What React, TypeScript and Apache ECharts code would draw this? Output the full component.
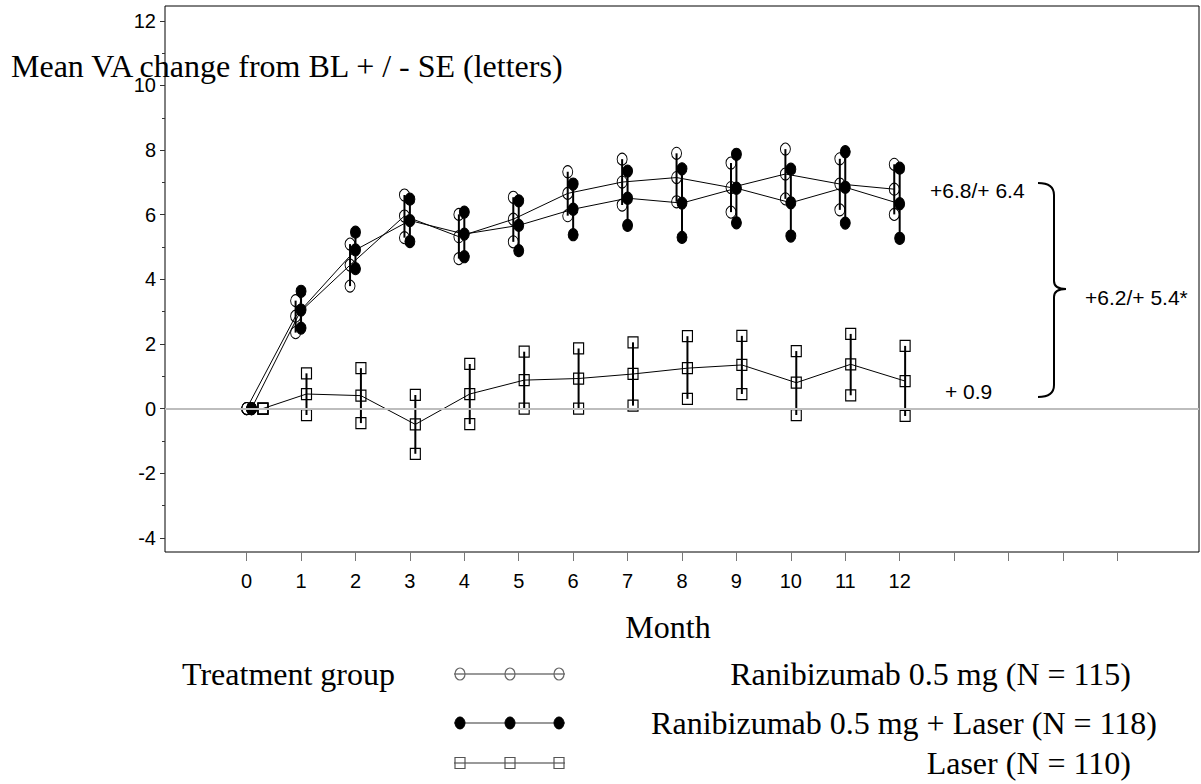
import React, { useEffect, useRef } from "react";
import * as echarts from "echarts";

// Visit months (tick labels)
const monthLabels = [0, 1, 2, 3, 4, 5, 6, 7, 8, 9, 10, 11, 12];
const monthTicks = [0, 1, 2, 3, 4, 5, 6, 7, 8, 9, 10, 11, 12, 13, 14, 15, 16];
const yMajorTicks = [-4, -2, 0, 2, 4, 6, 8, 10, 12];
const yMinorTicks = [-3, -1, 1, 3, 5, 7, 9, 11];

// Plotted x positions (slightly jittered per group as in the source)
const xRan = [0, 0.9, 1.9, 2.9, 3.9, 4.9, 5.9, 6.9, 7.9, 8.9, 9.9, 10.9, 11.9];
const xComb = [0.09, 1, 2, 3, 4, 5, 6, 7, 8, 9, 10, 11, 12];
const xLaser = [0.3, 1.1, 2.1, 3.1, 4.1, 5.1, 6.1, 7.1, 8.1, 9.1, 10.1, 11.1, 12.1];

// Ranibizumab 0.5 mg
const ranMean = [0, 2.86, 4.44, 5.96, 5.32, 5.86, 6.66, 7.01, 7.15, 6.84, 7.26, 6.95, 6.79];
const ranUpper = [0, 3.34, 5.09, 6.61, 6.01, 6.54, 7.33, 7.72, 7.9, 7.6, 8.03, 7.73, 7.56];
const ranLower = [0, 2.35, 3.79, 5.29, 4.64, 5.16, 5.97, 6.3, 6.4, 6.08, 6.49, 6.15, 6.01];

// Ranibizumab 0.5 mg + Laser
const combMean = [0, 3.05, 4.91, 5.82, 5.4, 5.67, 6.17, 6.51, 6.36, 6.82, 6.37, 6.85, 6.34];
const combUpper = [0, 3.63, 5.46, 6.48, 6.08, 6.43, 6.95, 7.35, 7.42, 7.87, 7.41, 7.95, 7.44];
const combLower = [0, 2.49, 4.33, 5.17, 4.7, 4.89, 5.38, 5.67, 5.3, 5.75, 5.34, 5.74, 5.27];

// Laser
const laserMean = [0, 0.45, 0.4, -0.49, 0.45, 0.88, 0.93, 1.07, 1.25, 1.35, 0.8, 1.37, 0.85];
const laserUpper = [0, 1.09, 1.25, 0.42, 1.38, 1.76, 1.86, 2.05, 2.24, 2.25, 1.78, 2.31, 1.94];
const laserLower = [0, -0.2, -0.45, -1.4, -0.48, 0, 0, 0.09, 0.3, 0.45, -0.2, 0.41, -0.23];

const groupNames = [
  "Ranibizumab 0.5 mg (N = 115)",
  "Ranibizumab 0.5 mg + Laser (N = 118)",
  "Laser (N = 110)",
];
const annotTop = "+6.8/+ 6.4";
const annotBottom = "+ 0.9";
const annotDiff = "+6.2/+ 5.4*";

const SANS = "'Liberation Sans', Arial, sans-serif";
const SERIF = "'Liberation Serif', 'Times New Roman', serif";

const symOpen = { symbol: "circle", symbolSize: [10, 12], itemStyle: { color: "rgba(0,0,0,0)", borderColor: "#000", borderWidth: 1, opacity: 1 } };
const symFilled = { symbol: "circle", symbolSize: [10, 12], itemStyle: { color: "#000", borderColor: "#000", borderWidth: 1, opacity: 1 } };
const symSquare = { symbol: "rect", symbolSize: [10, 11], itemStyle: { color: "rgba(0,0,0,0)", borderColor: "#000", borderWidth: 1.2, opacity: 1 } };

function errorBarSeries(xs: number[], lo: number[], hi: number[]) {
  return {
    type: "custom",
    z: 2,
    silent: true,
    data: xs.map((x, i) => [x, lo[i], hi[i]]),
    encode: { x: 0, y: [1, 2] },
    renderItem: (params: any, api: any) => {
      const p1 = api.coord([api.value(0), api.value(1)]);
      const p2 = api.coord([api.value(0), api.value(2)]);
      return {
        type: "line",
        shape: { x1: p1[0], y1: p1[1], x2: p2[0], y2: p2[1] },
        style: { stroke: "#000", lineWidth: 2 },
      };
    },
  };
}

function meanSeries(name: string, xs: number[], ys: number[], sym: any) {
  return {
    type: "line",
    name,
    z: 3,
    data: xs.map((x, i) => [x, ys[i]]),
    showAllSymbol: true,
    ...sym,
    lineStyle: { color: "#000", width: 1 },
  };
}

function limitSeries(xs: number[], lo: number[], hi: number[], sym: any) {
  const data: number[][] = [];
  xs.forEach((x, i) => {
    data.push([x, hi[i]]);
    data.push([x, lo[i]]);
  });
  return { type: "scatter", z: 3, silent: true, data, ...sym };
}

function legendRow(y: number, kind: string, label: string, labelRight: number) {
  const xs = [460, 510, 559];
  const els: any[] = [
    { type: "line", shape: { x1: 454, y1: y, x2: 565, y2: y }, style: { stroke: "#777", lineWidth: 1.5 } },
  ];
  xs.forEach((cx) => {
    if (kind === "square") {
      els.push({ type: "rect", shape: { x: cx - 5, y: y - 5.5, width: 10, height: 11 }, style: { fill: "none", stroke: "#555", lineWidth: 1.2 } });
    } else {
      els.push({
        type: "ellipse",
        shape: { cx, cy: y, rx: 5, ry: 6 },
        style: kind === "filled" ? { fill: "#000", stroke: "#000", lineWidth: 1 } : { fill: "none", stroke: "#666", lineWidth: 1.2 },
      });
    }
  });
  els.push({ type: "text", x: labelRight, y, style: { text: label, font: `32px ${SERIF}`, fill: "#000", verticalAlign: "middle", align: "right" } });
  return els;
}

export default function App() {
  const ref = useRef<HTMLDivElement>(null);
  useEffect(() => {
    if (!ref.current) return;
    const chart = echarts.init(ref.current, null, { renderer: "svg" });
    const braceStyle = { stroke: "#000", lineWidth: 2, fill: "none" };
    chart.setOption({
      animation: false,
      backgroundColor: "#fff",
      grid: { left: 165, right: 2, top: 6, bottom: 232, show: true, borderColor: "#000", borderWidth: 1, backgroundColor: "transparent" },
      xAxis: {
        type: "value",
        min: -1.5,
        max: 17.5,
        position: "bottom",
        axisLine: { show: false, onZero: false },
        splitLine: { show: false },
        axisTick: { show: true, customValues: monthTicks, length: 9, lineStyle: { color: "#777", width: 1 } },
        axisLabel: { customValues: monthLabels, fontSize: 20, fontFamily: SANS, color: "#000", margin: 19 },
      },
      yAxis: [
        {
          type: "value",
          min: -4.44,
          max: 12.46,
          position: "left",
          axisLine: { show: false, onZero: false },
          splitLine: { show: false },
          axisTick: { show: true, customValues: yMajorTicks, length: 5, lineStyle: { color: "#333", width: 1 } },
          axisLabel: { customValues: yMajorTicks, fontSize: 20, fontFamily: SANS, color: "#000", margin: 9 },
        },
        {
          type: "value",
          min: -4.44,
          max: 12.46,
          position: "left",
          offset: 0,
          axisLine: { show: false, onZero: false },
          splitLine: { show: false },
          axisTick: { show: true, customValues: yMinorTicks, length: 3, lineStyle: { color: "#333", width: 1 } },
          axisLabel: { show: false },
        },
      ],
      series: [
        {
          type: "line",
          data: [],
          silent: true,
          markLine: {
            silent: true,
            symbol: "none",
            label: { show: false },
            lineStyle: { color: "#bdbdbd", width: 2, type: "solid" },
            data: [{ yAxis: 0 }],
          },
        },
        errorBarSeries(xRan, ranLower, ranUpper),
        errorBarSeries(xComb, combLower, combUpper),
        errorBarSeries(xLaser, laserLower, laserUpper),
        meanSeries(groupNames[0], xRan, ranMean, symOpen),
        meanSeries(groupNames[1], xComb, combMean, symFilled),
        meanSeries(groupNames[2], xLaser, laserMean, symSquare),
        limitSeries(xRan, ranLower, ranUpper, symOpen),
        limitSeries(xComb, combLower, combUpper, symFilled),
        limitSeries(xLaser, laserLower, laserUpper, symSquare),
      ],
      graphic: [
        { type: "text", x: 11, y: 66, z: 100, style: { text: "Mean VA change from BL + / - SE (letters)", font: `32px ${SERIF}`, fill: "#000", verticalAlign: "middle" } },
        { type: "text", x: 668, y: 627, style: { text: "Month", font: `32px ${SERIF}`, fill: "#000", align: "center", verticalAlign: "middle" } },
        { type: "text", x: 182, y: 674, style: { text: "Treatment group", font: `32px ${SERIF}`, fill: "#000", verticalAlign: "middle" } },
        ...legendRow(674, "open", groupNames[0], 1131),
        ...legendRow(723, "filled", groupNames[1], 1157),
        ...legendRow(763, "square", groupNames[2], 1131),
        { type: "text", x: 930, y: 190, style: { text: annotTop, font: `21px ${SANS}`, fill: "#000", verticalAlign: "middle" } },
        { type: "text", x: 945, y: 391, style: { text: annotBottom, font: `21px ${SANS}`, fill: "#000", verticalAlign: "middle" } },
        { type: "text", x: 1085, y: 297, style: { text: annotDiff, font: `21px ${SANS}`, fill: "#000", verticalAlign: "middle" } },
        { type: "bezierCurve", shape: { x1: 1038, y1: 183, cpx1: 1054, cpy1: 183, x2: 1054, y2: 195 }, style: braceStyle },
        { type: "line", shape: { x1: 1054, y1: 195, x2: 1054, y2: 281 }, style: braceStyle },
        { type: "bezierCurve", shape: { x1: 1054, y1: 281, cpx1: 1054, cpy1: 289, x2: 1066, y2: 289 }, style: braceStyle },
        { type: "bezierCurve", shape: { x1: 1066, y1: 289, cpx1: 1054, cpy1: 289, x2: 1054, y2: 297 }, style: braceStyle },
        { type: "line", shape: { x1: 1054, y1: 297, x2: 1054, y2: 385 }, style: braceStyle },
        { type: "bezierCurve", shape: { x1: 1054, y1: 385, cpx1: 1054, cpy1: 397, x2: 1038, y2: 397 }, style: braceStyle },
      ],
    });
    return () => chart.dispose();
  }, []);
  return <div ref={ref} style={{ position: "fixed", left: 0, top: 0, width: 1201, height: 784, background: "#fff" }} />;
}
